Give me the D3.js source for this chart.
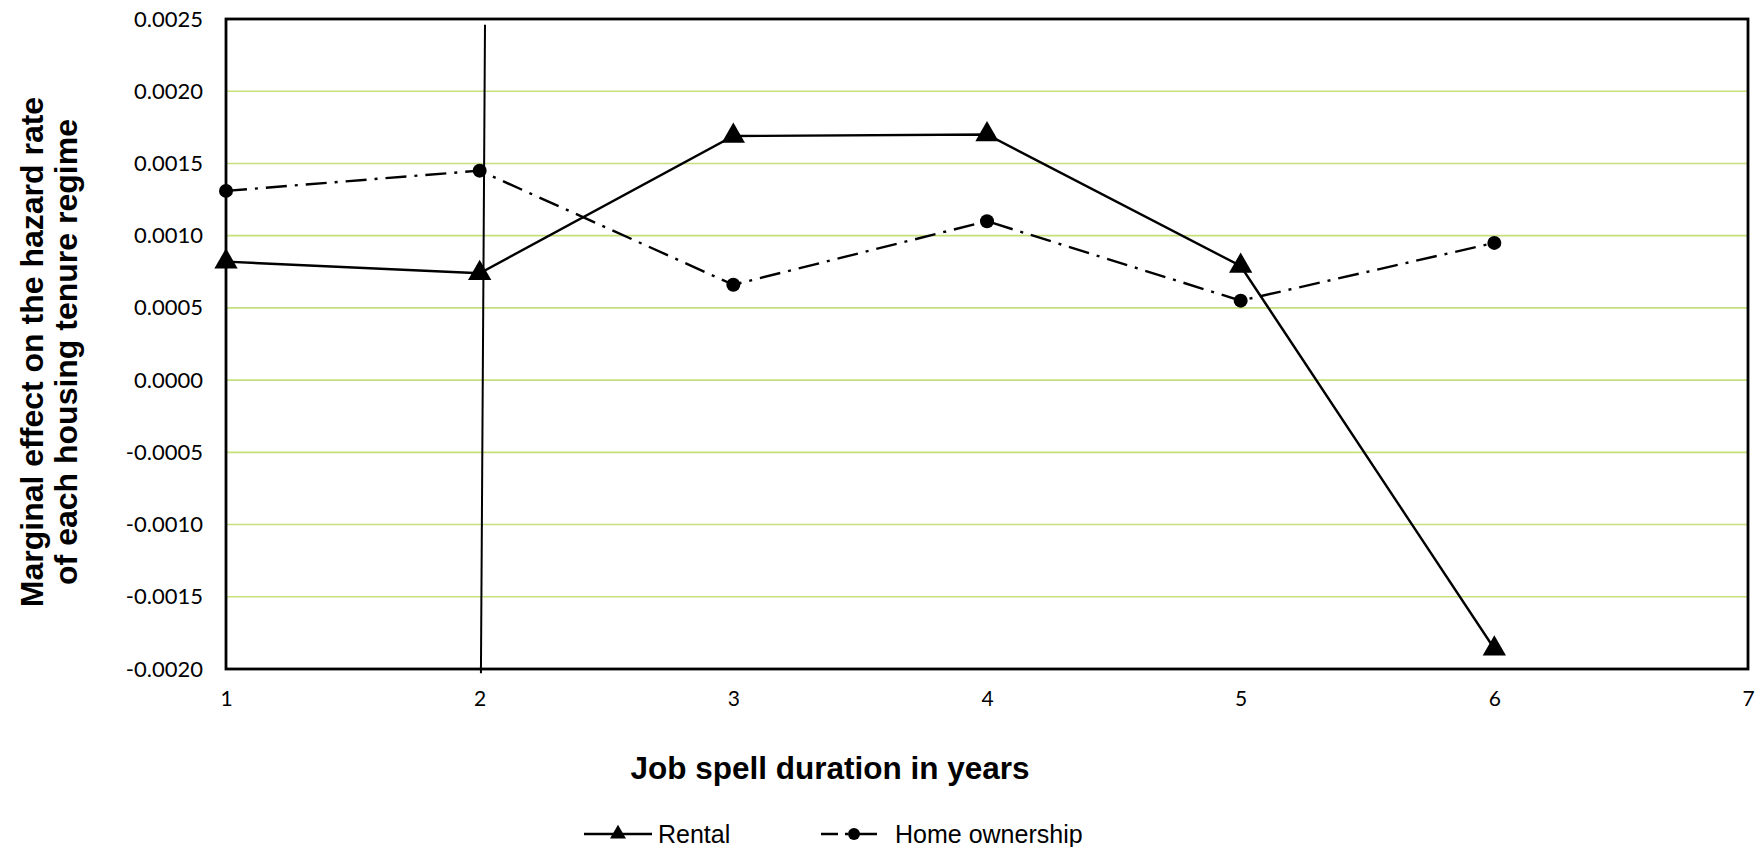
<!DOCTYPE html>
<html>
<head>
<meta charset="utf-8">
<script src="https://cdn.jsdelivr.net/npm/d3@7"></script>
<style>
  html, body { margin: 0; padding: 0; background: #fff; }
  svg { display: block; }
</style>
</head>
<body>
<svg id="chart" width="1762" height="847"></svg>
<script>
// Job spell duration (years) on the x axis
const years = [1, 2, 3, 4, 5, 6];
const xTicks = [1, 2, 3, 4, 5, 6, 7];
const yTicks = [0.0025, 0.0020, 0.0015, 0.0010, 0.0005, 0.0000, -0.0005, -0.0010, -0.0015, -0.0020];

// Marginal effects on the hazard rate
const rental = [0.00082, 0.00074, 0.00169, 0.00170, 0.00079, -0.00186];
const homeOwnership = [0.00131, 0.00145, 0.00066, 0.00110, 0.00055, 0.00095];

// Reference line drawn near year 2
const refLine = [{ x: 2.021, y: 0.00246 }, { x: 2.005, y: -0.00203 }];

const seriesNames = ["Rental", "Home ownership"];

const svg = d3.select("#chart");
const plot = { left: 226, right: 1748, top: 19, bottom: 669 };

const x = d3.scaleLinear().domain([1, 7]).range([plot.left, plot.right]);
const y = d3.scaleLinear().domain([-0.0020, 0.0025]).range([plot.bottom, plot.top]);

const fmt = v => {
  const s = Math.abs(v).toFixed(4);
  return (v < -1e-12 ? "-" : "") + s;
};

// Horizontal gridlines
svg.append("g")
  .selectAll("line")
  .data(yTicks.filter(t => t < 0.0025 - 1e-9 && t > -0.0020 + 1e-9))
  .join("line")
  .attr("x1", plot.left).attr("x2", plot.right)
  .attr("y1", d => y(d)).attr("y2", d => y(d))
  .attr("stroke", "#c4df7c")
  .attr("stroke-width", 1.6);

// Y axis labels
const yAxis = d3.axisLeft(y).tickValues(yTicks).tickFormat(fmt).tickSize(0).tickPadding(23);
const gy = svg.append("g").attr("transform", `translate(${plot.left},0)`).call(yAxis);
gy.select(".domain").remove();
gy.selectAll("text")
  .attr("font-family", "Lato, 'Open Sans', sans-serif")
  .attr("font-size", 22)
  .attr("fill", "#000");

// X axis labels
const xAxis = d3.axisBottom(x).tickValues(xTicks).tickFormat(d3.format("d")).tickSize(0).tickPadding(22);
const gx = svg.append("g").attr("transform", `translate(0,${plot.bottom})`).call(xAxis);
gx.select(".domain").remove();
gx.selectAll("text")
  .attr("font-family", "Lato, 'Open Sans', sans-serif")
  .attr("font-size", 21)
  .attr("fill", "#000");

// Plot frame
svg.append("rect")
  .attr("x", plot.left).attr("y", plot.top)
  .attr("width", plot.right - plot.left).attr("height", plot.bottom - plot.top)
  .attr("fill", "none")
  .attr("stroke", "#000")
  .attr("stroke-width", 2.8);

// Reference line
svg.append("path")
  .datum(refLine)
  .attr("d", d3.line().x(d => x(d.x)).y(d => y(d.y)))
  .attr("fill", "none")
  .attr("stroke", "#000")
  .attr("stroke-width", 2);

const line = d3.line().x((d, i) => x(years[i])).y(d => y(d));

// Home ownership series (dash-dot)
svg.append("path")
  .datum(homeOwnership)
  .attr("d", line)
  .attr("fill", "none")
  .attr("stroke", "#000")
  .attr("stroke-width", 2.4)
  .attr("stroke-dasharray", "21,8,3,8");

svg.append("g")
  .selectAll("circle")
  .data(homeOwnership)
  .join("circle")
  .attr("cx", (d, i) => x(years[i]))
  .attr("cy", d => y(d))
  .attr("r", 7)
  .attr("fill", "#000");

// Rental series (solid)
svg.append("path")
  .datum(rental)
  .attr("d", line)
  .attr("fill", "none")
  .attr("stroke", "#000")
  .attr("stroke-width", 2.4);

const tri = d3.symbol().type(d3.symbolTriangle).size(235);
svg.append("g")
  .selectAll("path")
  .data(rental)
  .join("path")
  .attr("d", tri)
  .attr("transform", (d, i) => `translate(${x(years[i])},${y(d)})`)
  .attr("fill", "#000");

// Axis titles
svg.append("text")
  .attr("x", 830).attr("y", 779)
  .attr("text-anchor", "middle")
  .attr("font-family", "'Liberation Sans', Arial, sans-serif")
  .attr("font-weight", "bold")
  .attr("font-size", 31.5)
  .attr("fill", "#000")
  .text("Job spell duration in years");

const yTitle = svg.append("text")
  .attr("transform", "translate(0,352) rotate(-90)")
  .attr("text-anchor", "middle")
  .attr("font-family", "'Liberation Sans', Arial, sans-serif")
  .attr("font-weight", "bold")
  .attr("font-size", 32)
  .attr("fill", "#000");
yTitle.append("tspan").attr("x", 0).attr("y", 43).text("Marginal effect on the hazard rate");
yTitle.append("tspan").attr("x", 0).attr("y", 77).text("of each housing tenure regime");

// Legend
const legend = svg.append("g").attr("font-family", "'Liberation Sans', Arial, sans-serif").attr("font-size", 25);
const ly = 834;
// Rental entry
legend.append("line").attr("x1", 584).attr("x2", 652).attr("y1", ly).attr("y2", ly)
  .attr("stroke", "#000").attr("stroke-width", 2.4);
legend.append("path").attr("d", d3.symbol().type(d3.symbolTriangle).size(110))
  .attr("transform", `translate(618,${ly})`).attr("fill", "#000");
legend.append("text").attr("x", 658).attr("y", ly + 9).text(seriesNames[0]);
// Home ownership entry
legend.append("line").attr("x1", 821).attr("x2", 877).attr("y1", ly).attr("y2", ly)
  .attr("stroke", "#000").attr("stroke-width", 2.4).attr("stroke-dasharray", "17,7,3,7,40");
legend.append("circle").attr("cx", 854).attr("cy", ly).attr("r", 6).attr("fill", "#000");
legend.append("text").attr("x", 895).attr("y", ly + 9).text(seriesNames[1]);
</script>
</body>
</html>
